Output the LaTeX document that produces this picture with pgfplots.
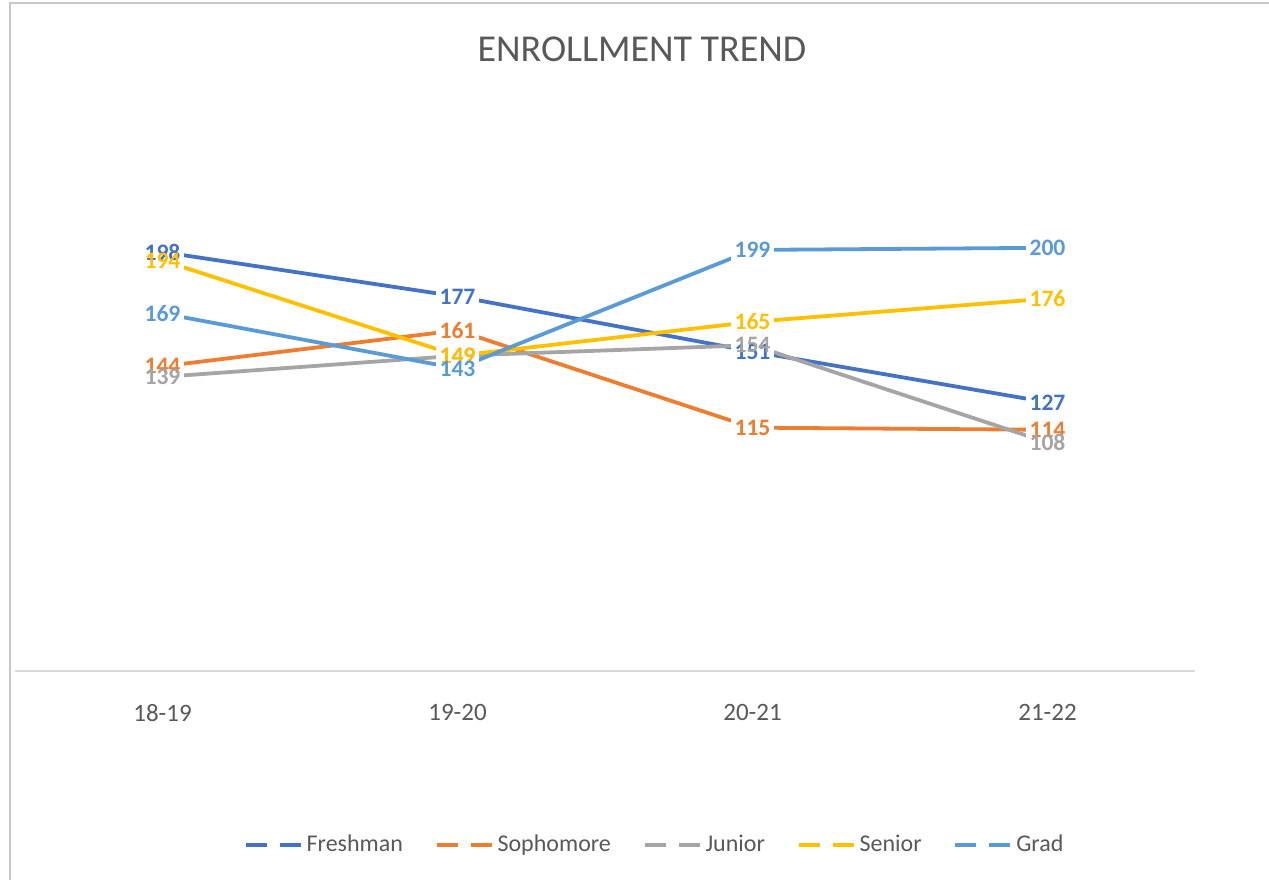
\documentclass[border=0pt]{standalone}
\usepackage{pgfplots}
\pgfplotsset{compat=1.18}
\usepackage{pgfplotstable}
\usepackage{fontspec}
\setmainfont{Carlito}
\definecolor{cfresh}{HTML}{4472C4}
\definecolor{csoph}{HTML}{ED7D31}
\definecolor{cjun}{HTML}{A5A5A5}
\definecolor{csen}{HTML}{FFC000}
\definecolor{cgrad}{HTML}{5B9BD5}
\definecolor{ctext}{HTML}{595959}
\definecolor{caxis}{HTML}{D9D9D9}

\pgfplotstableread{
x y
0 198
1 177
2 151
3 127
}\fresh
\pgfplotstableread{
x y
0 144
1 161
2 115
3 114
}\soph
\pgfplotstableread{
x y
0 139
1 149
2 154
3 108
}\jun
\pgfplotstableread{
x y
0 194
1 149
2 165
3 176
}\sen
\pgfplotstableread{
x y
0 169
1 143
2 199
3 200
}\grad

\pgfplotsset{
  lbl/.style={draw=none, forget plot, mark=none, nodes near coords,
    every node near coord/.append style={anchor=center, inner sep=2pt,
      font=\fontsize{11.8}{13}\selectfont\bfseries, color=#1}},
  lblbg/.style={draw=none, forget plot, mark=none, nodes near coords,
    every node near coord/.append style={anchor=center, inner sep=2pt,
      fill=white, text opacity=0,
      font=\fontsize{11.8}{13}\selectfont\bfseries}},
}

\begin{document}
\begin{tikzpicture}
\useasboundingbox (0,0) rectangle (634.5pt,440pt);
\fill[white] (0,0) rectangle (634.5pt,440pt);
\draw[color=black!22, line width=1pt] (5pt,0) -- (5pt,438.5pt) -- (634.5pt,438.5pt);
\node[color=ctext, font=\fontsize{19}{22}\selectfont] at (321pt,415.5pt) {ENROLLMENT TREND};
\begin{axis}[
  at={(7.5pt,104.5pt)}, anchor=south west,
  scale only axis, width=590pt, height=264.5pt,
  xmin=-0.5, xmax=3.5, ymin=0, ymax=250,
  axis x line=bottom, axis y line=none,
  x axis line style={draw=caxis, line width=0.8pt, -},
  xtick={0,1,2,3}, xticklabels={18-19,19-20,20-21,21-22},
  xtick style={draw=none},
  xticklabel style={color=ctext, font=\fontsize{12.5}{14}\selectfont, yshift=-11pt},
  ytick=\empty,
  /pgf/number format/assume math mode=true,
  clip=false,
  legend style={at={(0.543,-0.329)}, anchor=center, legend columns=5, draw=none,
    font=\fontsize{12}{14}\selectfont, text=ctext,
    /tikz/every even column/.append style={column sep=14pt}},
  legend image code/.code={\draw[#1, line width=1.8pt, dash pattern=on 10.5pt off 6.5pt] (0pt,0pt) -- (27.5pt,0pt);},
]
\addplot[cfresh, line width=1.9pt, mark=none] table[x=x,y=y] {\fresh};
\addlegendentry{Freshman}
\addplot[csoph, line width=1.9pt, mark=none] table[x=x,y=y] {\soph};
\addlegendentry{Sophomore}
\addplot[cjun, line width=1.9pt, mark=none] table[x=x,y=y] {\jun};
\addlegendentry{Junior}
\addplot[csen, line width=1.9pt, mark=none] table[x=x,y=y] {\sen};
\addlegendentry{Senior}
\addplot[cgrad, line width=1.9pt, mark=none] table[x=x,y=y] {\grad};
\addlegendentry{Grad}

\addplot[lblbg] table[x=x,y=y] {\fresh};
\addplot[lblbg] table[x=x,y=y] {\soph};
\addplot[lblbg] table[x=x,y=y] {\jun};
\addplot[lblbg] table[x=x,y=y] {\sen};
\addplot[lblbg] table[x=x,y=y] {\grad};

\addplot[lbl=cfresh] table[x=x,y=y] {\fresh};
\addplot[lbl=csoph] table[x=x,y=y] {\soph};
\addplot[lbl=cjun] table[x=x,y=y] {\jun};
\addplot[lbl=csen] table[x=x,y=y] {\sen};
\addplot[lbl=cgrad] table[x=x,y=y] {\grad};
\end{axis}
\end{tikzpicture}
\end{document}
